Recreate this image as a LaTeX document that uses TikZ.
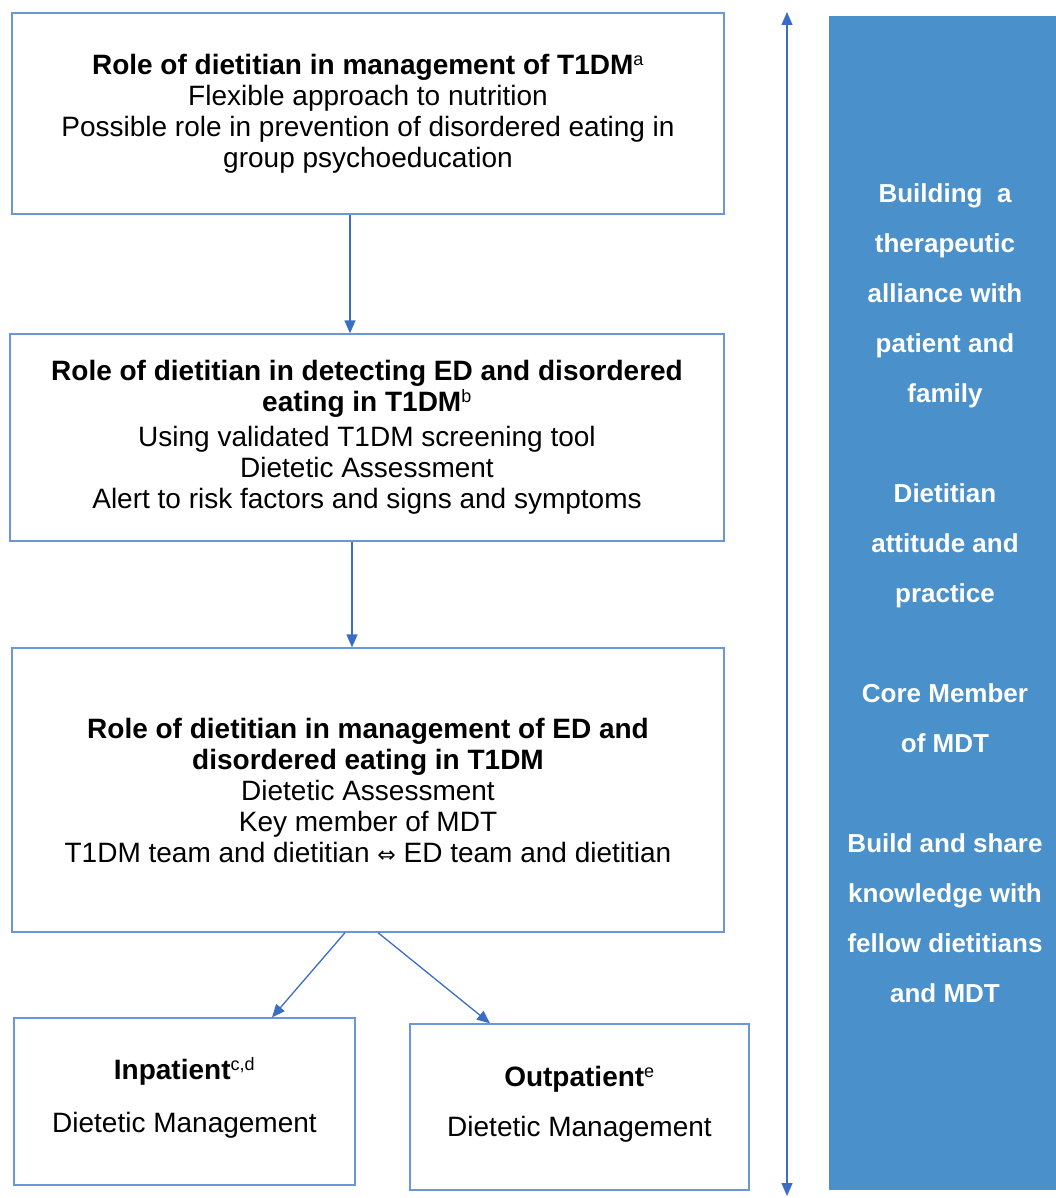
\documentclass[tikz,border=0pt]{standalone}
\usepackage{fontspec}
\setmainfont{Liberation Sans}
\newfontfamily\symfont{DejaVu Sans}
\usetikzlibrary{arrows.meta}
\definecolor{boxline}{RGB}{108,150,218}
\definecolor{arrowc}{RGB}{58,110,196}
\definecolor{sidebar}{RGB}{74,145,203}
\newcommand{\supr}[1]{\textsuperscript{\normalfont\fontsize{18}{20}\selectfont #1}}
\begin{document}
\begin{tikzpicture}[x=1pt,y=-1pt,
  box/.style={draw=boxline,line width=1.3pt,fill=white,inner sep=0pt,align=center,
    font=\fontsize{28}{31}\selectfont},
  conn/.style={draw=arrowc,line width=1.3pt,-{Triangle[length=13pt,width=11pt]}},
  sidetext/.style={text=white,align=center,font=\bfseries\fontsize{26}{50}\selectfont}]
\useasboundingbox (0,0) rectangle (1056,1198);
% boxes
\node[box,minimum width=712pt,minimum height=201pt] (b1) at (368,113.5)
  {\textbf{Role of dietitian in management of T1DM\supr{a}}\\
   Flexible approach to nutrition\\
   Possible role in prevention of disordered eating in\\
   group psychoeducation};
\node[box,minimum width=714pt,minimum height=207pt] (b2) at (367,437.5)
  {\textbf{Role of dietitian in detecting ED and disordered}\\
   \textbf{eating in T1DM\supr{b}}\\[4pt]
   Using validated T1DM screening tool\\
   Dietetic Assessment\\
   Alert to risk factors and signs and symptoms};
\node[box,minimum width=712pt,minimum height=284pt] (b3) at (368,790)
  {\textbf{Role of dietitian in management of ED and}\\
   \textbf{disordered eating in T1DM}\\
   Dietetic Assessment\\
   Key member of MDT\\
   T1DM team and dietitian {\symfont\fontsize{22}{31}\selectfont ⇔} ED team and dietitian};
\node[box,minimum width=341pt,minimum height=167pt] (b4) at (184.5,1101.5)
  {\raisebox{12.5pt}{\textbf{Inpatient\supr{c,d}}}\\[19pt]
   \raisebox{12.5pt}{Dietetic Management}};
\node[box,minimum width=339pt,minimum height=166pt] (b5) at (579.5,1107)
  {\raisebox{11pt}{\textbf{Outpatient\supr{e}}}\\[18pt]
   \raisebox{11pt}{Dietetic Management}};
% sidebar
\node[fill=sidebar,inner sep=0pt,minimum width=227pt,minimum height=1174pt] (side) at (942.5,603) {};
\node[sidetext] (stxt) at (945,593.5)
  {Building\ \ a\\ therapeutic\\ alliance with\\ patient and\\ family\\[50pt]
   Dietitian\\ attitude and\\ practice\\[50pt]
   Core Member\\ of MDT\\[50pt]
   Build and share\\ knowledge with\\ fellow dietitians\\ and MDT};
% connector coordinates
\coordinate (x1) at (350,0);
\coordinate (x2) at (352,0);
\coordinate (d1s) at (345,0);
\coordinate (d1e) at (272,0);
\coordinate (d2s) at (378,0);
\coordinate (d2e) at (490,0);
\coordinate (vtop) at (787,12);
\coordinate (vbot) at (787,1196);
% connectors
\draw[conn] (b1.south -| x1) -- (b2.north -| x1);
\draw[conn] (b2.south -| x2) -- (b3.north -| x2);
\draw[conn] (b3.south -| d1s) -- (b4.north -| d1e);
\draw[conn] (b3.south -| d2s) -- (b5.north -| d2e);
\draw[draw=arrowc,line width=1.3pt,{Triangle[length=13pt,width=11pt]}-{Triangle[length=13pt,width=11pt]}] (vtop) -- (vbot);
\end{tikzpicture}
\end{document}
